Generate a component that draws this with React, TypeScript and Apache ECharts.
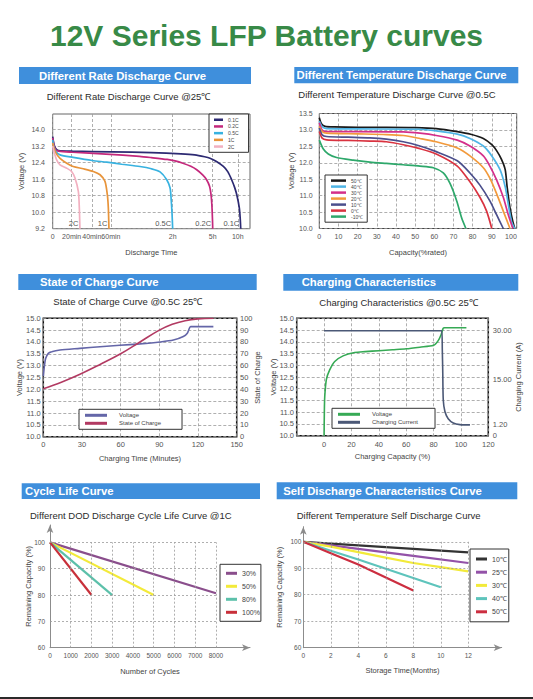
import { useEffect, useRef } from "react";
import * as echarts from "echarts";

const FONT = '"Liberation Sans", Arial, Helvetica, sans-serif';

// ---------- Panel 1: Different Rate Discharge Curve ----------
const rateTickPos = [0, 9.6, 19.8, 29.5, 60.8, 81.1, 93.8];
const rateTickLabels = ["0", "20min", "40min", "60min", "2h", "5h", "10h"];
const rateVoltTicks = [9.2, 10.0, 10.8, 11.6, 12.4, 13.2, 14.0];
const rateNames = ["0.1C", "0.2C", "0.5C", "1C", "2C"];
const rateColors = ["#2d2a72", "#c4287c", "#38b2e0", "#e8943a", "#f2b0c0"];
const rate01C = [[0, 13.65], [0.6, 13.3], [1.5, 13.08], [3, 12.98], [10, 12.95], [30, 12.92], [50, 12.88], [65, 12.82], [72, 12.77], [77, 12.68], [79.7, 12.61], [83, 12.45], [86.5, 12.21], [88.8, 11.95], [90.7, 11.57], [92.2, 11.2], [93.3, 10.84], [94.6, 10.2], [95.1, 9.6], [95.3, 9.2]];
const rate02C = [[0, 13.6], [0.6, 13.25], [1.5, 13.02], [3, 12.95], [10, 12.9], [27, 12.81], [44, 12.7], [50, 12.64], [58, 12.55], [62, 12.48], [66, 12.37], [70, 12.22], [73, 12.05], [76, 11.8], [78, 11.57], [79.5, 11.25], [80.3, 10.8], [80.7, 10.3], [81, 9.6], [81.1, 9.2]];
const rate05C = [[0, 13.5], [0.6, 13.15], [1.5, 12.95], [3.7, 12.77], [10.4, 12.65], [20, 12.5], [27.4, 12.42], [35, 12.32], [44.2, 12.21], [50, 12.1], [54.4, 11.95], [57.8, 11.57], [59.5, 11.17], [60.1, 10.54], [60.5, 9.9], [60.8, 9.2]];
const rate1C = [[0, 13.35], [0.6, 13.1], [1.5, 12.88], [3.7, 12.6], [7.1, 12.37], [10.4, 12.21], [15.5, 12.1], [20.6, 11.97], [24, 11.81], [26.5, 11.49], [27.7, 10.84], [28.2, 10.2], [28.5, 9.2]];
const rate2C = [[0, 13.2], [0.6, 12.95], [2, 12.53], [3.7, 12.29], [7.1, 12.13], [9.6, 11.97], [11.3, 11.65], [13, 11.0], [13.5, 10.2], [13.8, 9.2]];
const rateData = [rate01C, rate02C, rate05C, rate1C, rate2C];

// ---------- Panel 2: Different Temperature Discharge Curve ----------
const tempNames = ["50℃", "40℃", "30℃", "20℃", "10℃", "0℃", "-10℃"];
const tempColors = ["#1a1a1a", "#4fb5e6", "#d42f8a", "#f29a3c", "#4b4f8c", "#d93340", "#2ea86b"];
const temp50 = [[0, 13.37], [1.2, 13.18], [3, 13.11], [8, 13.09], [20, 13.08], [35, 13.08], [50, 13.07], [61, 13.04], [72, 12.95], [79, 12.87], [85.6, 12.74], [90, 12.55], [92.5, 12.37], [95, 12.11], [97, 11.79], [98, 11.27], [99.5, 10.63], [101, 10.21], [102, 10.0]];
const temp40 = [[0, 13.27], [1.5, 13.1], [3.8, 13.04], [20, 13.03], [52.5, 13.02], [61, 12.97], [72, 12.87], [78.6, 12.74], [85.6, 12.51], [90, 12.21], [94.3, 11.79], [97, 11.27], [98.6, 10.74], [100.3, 10.21], [102, 10.0]];
const temp30 = [[0, 13.22], [1.5, 13.0], [3.8, 12.95], [20, 12.95], [43.8, 12.94], [52.5, 12.9], [61, 12.83], [72, 12.69], [78.6, 12.51], [85.6, 12.21], [89, 11.9], [92.5, 11.48], [96, 10.95], [98.6, 10.42], [101, 10.0]];
const temp20 = [[0, 13.11], [1.5, 12.95], [3.8, 12.9], [20, 12.88], [35, 12.86], [43.8, 12.83], [52.5, 12.74], [61, 12.64], [72, 12.45], [78.6, 12.21], [85.6, 11.85], [89, 11.53], [92.5, 11.06], [96, 10.53], [99.5, 10.0]];
const temp10 = [[0, 13.06], [1.5, 12.85], [3.8, 12.8], [15, 12.78], [26.4, 12.76], [35, 12.72], [43.8, 12.64], [52.5, 12.51], [61, 12.34], [72, 12.06], [78.6, 11.69], [83.8, 11.32], [89, 10.84], [92.5, 10.42], [96, 10.0]];
const temp0 = [[0, 12.95], [1.5, 12.75], [3.8, 12.7], [15, 12.68], [26.4, 12.66], [35, 12.64], [43.8, 12.55], [52.5, 12.43], [61, 12.27], [72, 11.9], [78.6, 11.42], [83.8, 10.95], [87.3, 10.53], [90, 10.0]];
const tempM10 = [[0, 12.69], [2.1, 12.42], [4.7, 12.27], [9, 12.16], [17.7, 12.08], [26.4, 12.02], [35, 11.98], [43.8, 11.94], [52.5, 11.9], [59.5, 11.85], [64.7, 11.69], [68.2, 11.37], [71.7, 10.84], [74.3, 10.32], [76.5, 10.0]];
const tempData = [temp50, temp40, temp30, temp20, temp10, temp0, tempM10];

// ---------- Panel 3: State of Charge Curve ----------
const socNames = ["Voltage", "State of Charge"];
const socColors = ["#6466a8", "#b23a62"];
const socVoltage = [[0, 12.56], [0.8, 12.96], [1.8, 13.3], [3.9, 13.52], [6.5, 13.59], [12.9, 13.66], [28.4, 13.73], [44, 13.8], [59.5, 13.86], [75, 13.92], [90.5, 14.0], [100.9, 14.08], [108.6, 14.23], [111.7, 14.37], [113.3, 14.58], [114.3, 14.65], [131.9, 14.65]];
const socPercent = [[0, 40.5], [14, 46], [28, 52.5], [44, 61], [60, 70], [75, 80], [90, 90], [100, 95], [110, 98], [120, 99.5], [132, 100]];

// ---------- Panel 4: Charging Characteristics ----------
const chgNames = ["Voltage", "Charging Current"];
const chgColors = ["#36aa55", "#4b5876"];
const chgCurrentTicks = [-2.1, 1.2, 15, 30];
const chgVoltage = [[0, 10.0], [0.2, 11.0], [0.5, 11.67], [1.7, 12.4], [4.1, 12.8], [7.8, 13.16], [13.9, 13.4], [22.4, 13.54], [30, 13.58], [40, 13.62], [50, 13.66], [60, 13.7], [70, 13.77], [80, 13.85], [83.4, 14.05], [85.5, 14.3], [87, 14.57], [88, 14.6], [104, 14.6]];
const chgCurrent = [[0, 30], [86, 30], [86.4, 24], [86.7, 18], [87.1, 8.8], [88.3, 5.3], [90.7, 3.1], [94.4, 1.8], [99.3, 1.3], [106.6, 1.2]];

// ---------- Panel 5: Cycle Life Curve ----------
const cycleNames = ["30%", "50%", "80%", "100%"];
const cycleColors = ["#8a4e8c", "#f3ea3a", "#5cc0aa", "#c8303a"];
const cycleTicks = [0, 1000, 2000, 3000, 4000, 5000, 6000, 7000, 8000];
const capTicks = [60, 70, 80, 90, 100];
const cycle30 = [[0, 100], [8000, 80.7]];
const cycle50 = [[0, 100], [5000, 80]];
const cycle80 = [[0, 100], [3000, 80]];
const cycle100 = [[0, 100], [2000, 80]];
const cycleData = [cycle30, cycle50, cycle80, cycle100];

// ---------- Panel 6: Self Discharge ----------
const selfNames = ["10℃", "25℃", "30℃", "40℃", "50℃"];
const selfColors = ["#333333", "#9352a8", "#f2ea3a", "#5ec4bc", "#cc2e40"];
const monthTicks = [0, 2, 4, 6, 8, 10, 12];
const self10 = [[0, 100], [6, 98], [12, 96]];
const self25 = [[0, 100], [4, 97.3], [8, 94.7], [12, 92]];
const self30 = [[0, 100], [2, 98.2], [4, 96.1], [6, 94], [8, 92], [10, 90.4], [12, 88.8]];
const self40 = [[0, 100], [2, 96.6], [4, 93.3], [6, 89.8], [8, 86.3], [10, 82.8]];
const self50 = [[0, 100], [2, 95.7], [4, 91.4], [6, 86.5], [8, 81.6]];
const selfData = [self10, self25, self30, self40, self50];

const strip = (n: string) => n.split("|")[1];

const dashed = { show: true, lineStyle: { color: "#9a9a9a", type: [3, 2] as any, width: 0.8 } };
const lbl = (extra: any = {}) => ({ color: "#555", fontSize: 7, fontFamily: FONT, hideOverlap: false, ...extra });
const nameStyle = { color: "#444", fontSize: 7.5, fontFamily: FONT };

function line(name: string, data: number[][], color: string, xi: number, yi: number, width = 1.6, smooth: any = 0.3): any {
  return {
    type: "line", name, data, xAxisIndex: xi, yAxisIndex: yi,
    showSymbol: false, symbol: "none", smooth,
    lineStyle: { color, width }, itemStyle: { color },
    emphasis: { disabled: true }, z: 3,
  };
}

function gridLines(xi: number, yi: number, xTicks: number[], yTicks: number[]): any {
  const xMax = xTicks[xTicks.length - 1];
  const yMin = yTicks[0];
  const yMax = yTicks[yTicks.length - 1];
  const data: any[] = [];
  xTicks.slice(1).forEach((x) => data.push([{ coord: [x, yMin] }, { coord: [x, yMax] }]));
  yTicks.slice(1).forEach((y) => data.push([{ coord: [0, y] }, { coord: [xMax, y] }]));
  return {
    type: "line", data: [], xAxisIndex: xi, yAxisIndex: yi, z: 1, silent: true,
    markLine: {
      silent: true, symbol: ["none", "none"], label: { show: false },
      lineStyle: { color: "#9a9a9a", type: [2, 2], width: 0.8 },
      emphasis: { disabled: true }, data,
    },
  };
}

function header(x: number, y: number, w: number, h: number, tx: number, text: string): any[] {
  return [
    { type: "rect", shape: { x, y, width: w, height: h }, style: { fill: "#3f8fdc" } },
    { type: "text", x: tx, y: y + h / 2, style: { text, fill: "#fff", fontSize: 11.3, fontWeight: "bold", fontFamily: FONT, align: "left", verticalAlign: "middle" } },
  ];
}
function subtitle(x: number, y: number, text: string): any {
  return { type: "text", x, y, style: { text, fill: "#2b2b2b", fontSize: 9.5, fontFamily: FONT, align: "left", verticalAlign: "middle" } };
}

function legend(names: string[], left: number, top: number, o: any): any {
  return {
    data: names, left, top, orient: "vertical", icon: "rect", selectedMode: false,
    backgroundColor: "#fff", borderColor: "#333", borderWidth: 1, formatter: strip,
    ...o,
  };
}

const option: any = {
  animation: false,
  backgroundColor: "#fff",
  textStyle: { fontFamily: FONT },
  graphic: [
    { type: "text", x: 266.5, y: 35.3, style: { text: "12V Series LFP Battery curves", fill: "#388a47", fontSize: 30, fontWeight: "bold", fontFamily: FONT, align: "center", verticalAlign: "middle" } },
    ...header(19, 67, 232, 17, 39, "Different Rate Discharge Curve"),
    ...header(294.3, 67, 224, 16.3, 296.5, "Different Temperature Discharge Curve"),
    ...header(18.3, 274, 238.4, 16, 40, "State of Charge Curve"),
    ...header(283.3, 274, 235, 16.7, 301.7, "Charging Characteristics"),
    ...header(21.7, 483.3, 238.3, 15.7, 25, "Cycle Life Curve"),
    ...header(276.7, 482.3, 240.6, 17, 283.3, "Self Discharge Characteristics Curve"),
    subtitle(46.7, 96, "Different Rate Discharge Curve @25℃"),
    subtitle(298.3, 94.3, "Different Temperature Discharge Curve @0.5C"),
    subtitle(53.3, 301, "State of Charge Curve @0.5C 25℃"),
    subtitle(319.3, 302, "Charging Characteristics @0.5C 25℃"),
    subtitle(30, 515.7, "Different DOD Discharge Cycle Life Curve @1C"),
    subtitle(296.7, 515, "Different Temperature Self Discharge Curve"),
    { type: "rect", shape: { x: 0, y: 697, width: 533, height: 2 }, style: { fill: "#2a2a2a" } },
  ],
  grid: [
    { left: 52.7, top: 114, width: 197.3, height: 114.7, show: true, borderColor: "#666", borderWidth: 1, outerBoundsMode: "none" },
    { left: 319.3, top: 113.5, width: 197.4, height: 115, show: true, borderColor: "#444", borderWidth: 1, outerBoundsMode: "none" },
    { left: 43.3, top: 318.3, width: 193.4, height: 118.4, show: true, borderColor: "#111", borderWidth: 1.5, outerBoundsMode: "none" },
    { left: 296.7, top: 318.3, width: 191.6, height: 117.4, show: true, borderColor: "#111", borderWidth: 1.5, outerBoundsMode: "none" },
    { left: 50, top: 525, width: 200, height: 122.7, outerBoundsMode: "none" },
    { left: 303.3, top: 526.7, width: 198.4, height: 121, outerBoundsMode: "none" },
  ],
  xAxis: [
    {
      type: "value", gridIndex: 0, min: 0, max: 100,
      axisLine: { show: false }, axisTick: { show: false, customValues: rateTickPos },
      axisLabel: lbl({ customValues: rateTickPos, margin: 4, formatter: (v: number) => rateTickLabels[rateTickPos.indexOf(v)] ?? "" }),
      splitLine: dashed, name: "Discharge Time", nameLocation: "middle", nameGap: 20, nameTextStyle: nameStyle, nameMoveOverlap: false,
    },
    {
      type: "value", gridIndex: 1, min: 0, max: 103, interval: 10,
      axisLine: { show: false }, axisTick: { show: false },
      axisLabel: lbl({ margin: 4.5, formatter: (v: number) => (v > 100 ? "" : String(v)) }),
      splitLine: dashed, name: "Capacity(%rated)", nameLocation: "middle", nameGap: 20, nameTextStyle: nameStyle, nameMoveOverlap: false,
    },
    {
      type: "value", gridIndex: 2, min: 0, max: 150, interval: 30,
      axisLine: { show: false }, axisTick: { show: false },
      axisLabel: lbl({ margin: 4, fontSize: 7.5 }),
      splitLine: dashed, name: "Charging Time (Minutes)", nameLocation: "middle", nameGap: 18, nameTextStyle: nameStyle, nameMoveOverlap: false,
    },
    {
      type: "value", gridIndex: 3, min: -20, max: 120, interval: 20,
      axisLine: { show: false }, axisTick: { show: false },
      axisLabel: lbl({ margin: 5, fontSize: 7.5, formatter: (v: number) => (v < 0 ? "" : String(v)) }),
      splitLine: dashed, name: "Charging Capacity (%)", nameLocation: "middle", nameGap: 16.5, nameTextStyle: nameStyle, nameMoveOverlap: false,
    },
    {
      type: "value", gridIndex: 4, min: 0, max: 9640, interval: 1000,
      axisLine: { show: true, onZero: false, symbol: ["none", "arrow"], symbolSize: [5, 8], lineStyle: { color: "#8c8c8c", width: 1 } },
      axisTick: { show: false },
      axisLabel: lbl({ margin: 4, fontSize: 6.5, formatter: (v: number) => (v > 8000 ? "" : String(v)) }),
      splitLine: { show: false }, name: "Number of Cycles", nameLocation: "middle", nameGap: 19.5, nameTextStyle: nameStyle, nameMoveOverlap: false,
    },
    {
      type: "value", gridIndex: 5, min: 0, max: 14.43, interval: 2,
      axisLine: { show: true, onZero: false, symbol: ["none", "arrow"], symbolSize: [5, 8], lineStyle: { color: "#8c8c8c", width: 1 } },
      axisTick: { show: false },
      axisLabel: lbl({ margin: 4, fontSize: 6.5, formatter: (v: number) => (v > 12 ? "" : String(v)) }),
      splitLine: { show: false }, name: "Storage Time(Months)", nameLocation: "middle", nameGap: 18.5, nameTextStyle: nameStyle, nameMoveOverlap: false,
    },
  ],
  yAxis: [
    {
      type: "value", gridIndex: 0, min: 9.2, max: 14.75,
      axisLine: { show: false }, axisTick: { show: false, customValues: rateVoltTicks },
      axisLabel: lbl({ customValues: rateVoltTicks, margin: 7.7, formatter: (v: number) => v.toFixed(1) }),
      splitLine: dashed, name: "Voltage (V)", nameLocation: "middle", nameGap: 27, nameTextStyle: nameStyle, nameMoveOverlap: false,
    },
    {
      type: "value", gridIndex: 1, min: 10, max: 13.5, interval: 0.5,
      axisLine: { show: false }, axisTick: { show: false },
      axisLabel: lbl({ margin: 6.6, formatter: (v: number) => v.toFixed(1) }),
      splitLine: dashed, name: "Voltage (V)", nameLocation: "middle", nameGap: 24, nameTextStyle: nameStyle, nameMoveOverlap: false,
    },
    {
      type: "value", gridIndex: 2, min: 10, max: 15, interval: 0.5,
      axisLine: { show: false }, axisTick: { show: false },
      axisLabel: lbl({ margin: 2.6, fontSize: 7.5, formatter: (v: number) => v.toFixed(1) }),
      splitLine: dashed, name: "Voltage (V)", nameLocation: "middle", nameGap: 19.5, nameTextStyle: nameStyle, nameMoveOverlap: false,
    },
    {
      type: "value", gridIndex: 2, position: "right", min: 0, max: 100, interval: 10,
      axisLine: { show: false }, axisTick: { show: false },
      axisLabel: lbl({ margin: 3.3, fontSize: 7.5 }),
      splitLine: { show: false }, name: "State of Charge", nameLocation: "middle", nameGap: 16.5, nameTextStyle: nameStyle, nameMoveOverlap: false,
    },
    {
      type: "value", gridIndex: 3, min: 10, max: 15, interval: 0.5,
      axisLine: { show: false }, axisTick: { show: false },
      axisLabel: lbl({ margin: 2.7, fontSize: 7.5, formatter: (v: number) => v.toFixed(1) }),
      splitLine: dashed, name: "Voltage (V)", nameLocation: "middle", nameGap: 19, nameTextStyle: nameStyle, nameMoveOverlap: false,
    },
    {
      type: "value", gridIndex: 3, position: "right", min: -2.1, max: 33.8,
      axisLine: { show: false }, axisTick: { show: false, customValues: chgCurrentTicks },
      axisLabel: lbl({ customValues: chgCurrentTicks, showMinLabel: true, margin: 4.5, fontSize: 7.5, formatter: (v: number) => (v < 0 ? "0" : v.toFixed(2)) }),
      splitLine: { show: false }, name: "Charging Current (A)", nameLocation: "middle", nameGap: 26, nameTextStyle: nameStyle, nameMoveOverlap: false,
    },
    {
      type: "value", gridIndex: 4, min: 60, max: 106.6, interval: 10,
      axisLine: { show: true, onZero: false, symbol: ["none", "arrow"], symbolSize: [5, 8], lineStyle: { color: "#8c8c8c", width: 1 } },
      axisTick: { show: false },
      axisLabel: lbl({ margin: 5, fontSize: 6.5, formatter: (v: number) => (v > 100 ? "" : String(v)) }),
      splitLine: { show: false }, name: "Remaining Capacity (%)", nameLocation: "middle", nameGap: 18, nameTextStyle: nameStyle, nameMoveOverlap: false,
    },
    {
      type: "value", gridIndex: 5, min: 60, max: 105.7, interval: 10,
      axisLine: { show: true, onZero: false, symbol: ["none", "arrow"], symbolSize: [5, 8], lineStyle: { color: "#8c8c8c", width: 1 } },
      axisTick: { show: false },
      axisLabel: lbl({ margin: 2, fontSize: 6.5, formatter: (v: number) => (v > 100 ? "" : String(v)) }),
      splitLine: { show: false }, name: "Remaining Capacity (%)", nameLocation: "middle", nameGap: 19.5, nameTextStyle: nameStyle, nameMoveOverlap: false,
    },
  ],
  legend: [
    legend(rateNames.map((n) => "p1|" + n), 209, 114, { itemWidth: 9, itemHeight: 2.5, itemGap: 1.2, padding: [3, 10, 3, 5], textStyle: { fontSize: 5, color: "#444", lineHeight: 5.5 } }),
    legend(tempNames.map((n) => "p2|" + n), 325, 175, { itemWidth: 15, itemHeight: 2.5, itemGap: 0.8, padding: [3, 4, 3, 6], textStyle: { fontSize: 5, color: "#444", lineHeight: 5.2 } }),
    legend(socNames.map((n) => "p3|" + n), 79, 409.3, { itemWidth: 22, itemHeight: 3, itemGap: 2, padding: [3, 21, 3, 6], textStyle: { fontSize: 6, color: "#444", padding: [0, 0, 0, 7] } }),
    legend(chgNames.map((n) => "p4|" + n), 332, 408.3, { itemWidth: 22, itemHeight: 3, itemGap: 2, padding: [3, 17, 3, 6], textStyle: { fontSize: 6, color: "#444", padding: [0, 0, 0, 7] } }),
    legend(cycleNames.map((n) => "p5|" + n), 220, 564.3, { itemWidth: 11, itemHeight: 3, itemGap: 5, padding: [5, 1, 5, 6], textStyle: { fontSize: 7, color: "#444", lineHeight: 8 } }),
    legend(selfNames.map((n) => "p6|" + n), 470, 549, { itemWidth: 11, itemHeight: 3, itemGap: 5.2, padding: [6, 2, 6, 6], textStyle: { fontSize: 7, color: "#444", lineHeight: 8 } }),
  ],
  series: [
    ...rateData.map((d, i) => ({
      ...line("p1|" + rateNames[i], d, rateColors[i], 0, 0, 1.7, 0.25),
      markPoint: {
        silent: true, symbol: "circle", symbolSize: 1, itemStyle: { color: "rgba(0,0,0,0)" },
        data: [{ coord: [d[d.length - 1][0], rateVoltTicks[0]] }],
        label: { show: true, position: "left", distance: 1, offset: [0, -5], formatter: rateNames[i], color: "#555", fontSize: 7.5, fontFamily: FONT },
      },
    })),
    ...tempData.map((d, i) => line("p2|" + tempNames[i], d, tempColors[i], 1, 1, 1.7, 0.25)),
    line("p3|" + socNames[0], socVoltage, socColors[0], 2, 2, 1.6, 0.25),
    line("p3|" + socNames[1], socPercent, socColors[1], 2, 3, 1.6, 0.4),
    line("p4|" + chgNames[0], chgVoltage, chgColors[0], 3, 4, 1.6, 0.25),
    line("p4|" + chgNames[1], chgCurrent, chgColors[1], 3, 5, 1.6, 0.25),
    gridLines(4, 6, cycleTicks, capTicks),
    ...cycleData.map((d, i) => line("p5|" + cycleNames[i], d, cycleColors[i], 4, 6, 2.2, false)),
    gridLines(5, 7, monthTicks, capTicks),
    ...selfData.map((d, i) => line("p6|" + selfNames[i], d, selfColors[i], 5, 7, 2.2, false)),
  ],
};

export default function App() {
  const ref = useRef<HTMLDivElement>(null);
  useEffect(() => {
    const chart = echarts.init(ref.current!, null, { renderer: "svg", width: 533, height: 699 });
    chart.setOption(option);
    return () => chart.dispose();
  }, []);
  return <div ref={ref} style={{ position: "absolute", left: 0, top: 0, width: 533, height: 699, background: "#fff" }} />;
}
